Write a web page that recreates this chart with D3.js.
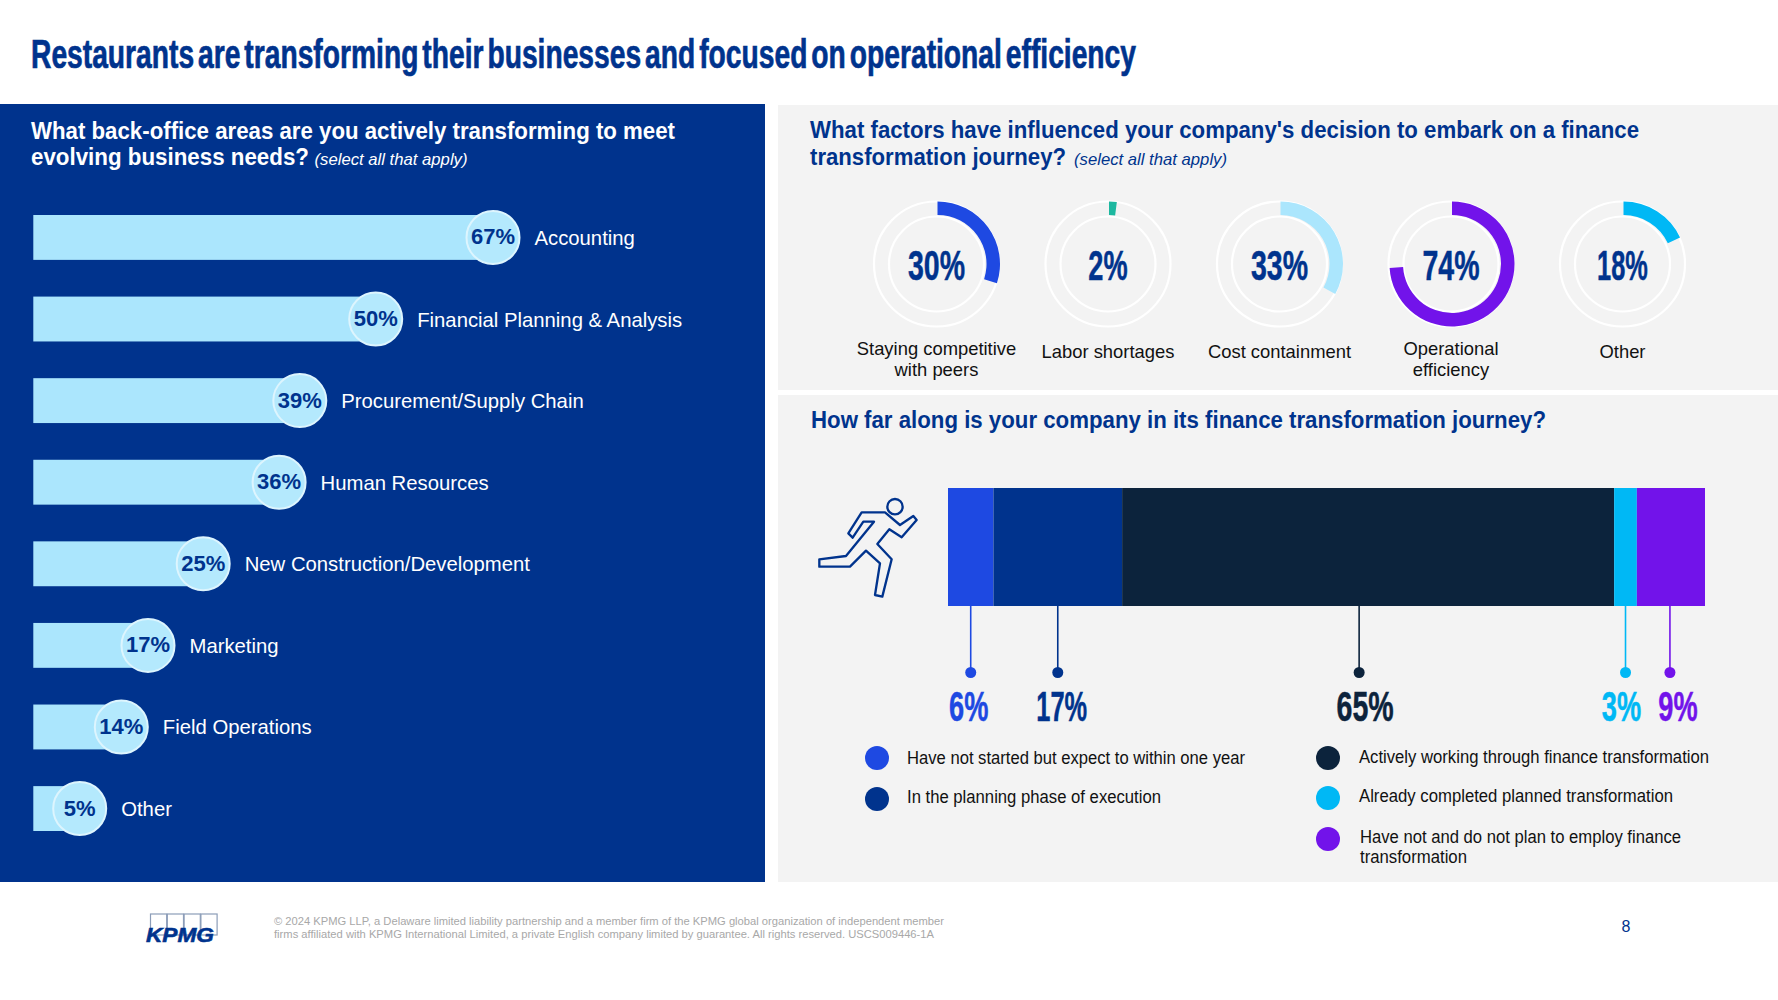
<!DOCTYPE html>
<html lang="en">
<head>
<meta charset="utf-8">
<title>Restaurants finance transformation</title>
<script src="https://cdn.jsdelivr.net/npm/d3@7/dist/d3.min.js"></script>
<style>
  html, body { margin: 0; padding: 0; background: #fff; overflow: hidden; }
  svg { display: block; }
  text { font-family: "Liberation Sans", Arial, sans-serif; }
  .narrow { font-family: "Liberation Sans Narrow", "Liberation Sans", Arial, sans-serif; font-weight: 700; }
</style>
</head>
<body>
<svg id="chart" width="1778" height="1000"></svg>
<script>
// Back-office areas being transformed
const areaNames = ["Accounting", "Financial Planning & Analysis", "Procurement/Supply Chain", "Human Resources",
  "New Construction/Development", "Marketing", "Field Operations", "Other"];
const areaValues = [67, 50, 39, 36, 25, 17, 14, 5];

// Factors behind the decision
const factorNames = [["Staying competitive", "with peers"], ["Labor shortages"], ["Cost containment"],
  ["Operational", "efficiency"], ["Other"]];
const factorValues = [30, 2, 33, 74, 18];
const factorColors = ["#1E49E2", "#1DB8A0", "#ABE6FD", "#7213EA", "#00B8F5"];

// Progress along the journey
const stageNames = ["Have not started but expect to within one year", "In the planning phase of execution",
  "Actively working through finance transformation", "Already completed planned transformation",
  "Have not and do not plan to employ finance transformation"];
const stageValues = [6, 17, 65, 3, 9];
const stageColors = ["#1E49E2", "#00338D", "#0C233C", "#00B8F5", "#7213EA"];

const NAVY = "#00338D", PANEL = "#F3F3F3", BAR = "#ABE6FD";
const svg = d3.select("#chart");

// Squeezed display figures: the width comes from the digits so "1" stays slim.
const glyphWidth = ch => ch === "%" ? 21.5 : ch === "1" ? 11.5 : 17.8;
const figureWidth = s => d3.sum(Array.from(s), glyphWidth);
function figure(g, label, cx, baseline, size, color) {
  const w = figureWidth(label);
  return g.append("text").attr("class", "narrow")
    .attr("x", cx - w / 2).attr("y", baseline)
    .attr("font-size", size).attr("fill", color)
    .attr("stroke", color).attr("stroke-width", 0.5)
    .attr("textLength", w).attr("lengthAdjust", "spacingAndGlyphs").text(label);
}
function fitted(g, label, x, baseline, size, width, color, weight, style) {
  return g.append("text").attr("x", x).attr("y", baseline)
    .attr("font-size", size).attr("fill", color)
    .attr("font-weight", weight || 400).attr("font-style", style || "normal")
    .attr("textLength", width).attr("lengthAdjust", "spacingAndGlyphs").text(label);
}

// Page background panels
svg.append("rect").attr("x", 0).attr("y", 104).attr("width", 765).attr("height", 778).attr("fill", NAVY);
svg.append("rect").attr("x", 778).attr("y", 105).attr("width", 1000).attr("height", 285).attr("fill", PANEL);
svg.append("rect").attr("x", 778).attr("y", 395).attr("width", 1000).attr("height", 487).attr("fill", PANEL);

// Page title: tight word gaps and a heavier stroke on the condensed face
svg.append("text").attr("class", "narrow").attr("x", 31).attr("y", 68)
  .attr("font-size", 40).attr("fill", NAVY).attr("stroke", NAVY).attr("stroke-width", 0.7)
  .attr("word-spacing", "-5.5px")
  .attr("textLength", 1105).attr("lengthAdjust", "spacingAndGlyphs")
  .text("Restaurants are transforming their businesses and focused on operational efficiency");

// ---- Horizontal bars with round value badges ----
const areaPanel = svg.append("g");
fitted(areaPanel, "What back-office areas are you actively transforming to meet", 31, 139, 23, 644, "#fff", 700);
fitted(areaPanel, "evolving business needs?", 31, 165, 23, 278, "#fff", 700);
fitted(areaPanel, "(select all that apply)", 314.5, 165, 17, 153, "#fff", 400, "italic");

// Short bars stay long enough to hold their badge, so the scale has extra stops at the low end.
const barX = d3.scaleLinear().domain([5, 14, 17, 67]).range([79.7, 121.3, 148, 493]);
const rowY = d3.scaleBand().domain(areaNames).range([215, 831]).paddingInner(0.45);
const rows = areaPanel.selectAll("g.row").data(areaNames.map((name, i) => ({ name, value: areaValues[i] })))
  .join("g").attr("class", "row");
rows.append("rect").attr("x", 33.3).attr("y", d => rowY(d.name))
  .attr("width", d => barX(d.value) - 33.3).attr("height", rowY.bandwidth()).attr("fill", BAR);
rows.append("circle").attr("cx", d => barX(d.value)).attr("cy", d => rowY(d.name) + rowY.bandwidth() / 2)
  .attr("r", 26.5).attr("fill", "#B4E9FD").attr("stroke", "#DDF5FE").attr("stroke-width", 2);
rows.append("text").attr("x", d => barX(d.value)).attr("y", d => rowY(d.name) + rowY.bandwidth() / 2 + 7)
  .attr("text-anchor", "middle").attr("font-size", 22).attr("font-weight", 700).attr("fill", NAVY)
  .text(d => d.value + "%");
rows.append("text").attr("x", d => barX(d.value) + 41.5).attr("y", d => rowY(d.name) + rowY.bandwidth() / 2 + 7.5)
  .attr("font-size", 20.3).attr("fill", "#fff").text(d => d.name);

// ---- Factor donuts ----
const factorPanel = svg.append("g");
fitted(factorPanel, "What factors have influenced your company's decision to embark on a finance", 810, 138, 23, 829, NAVY, 700);
fitted(factorPanel, "transformation journey?", 810, 165, 23, 256, NAVY, 700);
fitted(factorPanel, "(select all that apply)", 1074, 165, 17, 153, NAVY, 400, "italic");

const donutX = d3.scalePoint().domain(d3.range(factorValues.length)).range([936.5, 1622.5]);
const donutY = 264;
const angle = d3.scaleLinear().domain([0, 100]).range([0, 2 * Math.PI]);
const arc = d3.arc().innerRadius(49).outerRadius(62.5);
factorValues.forEach((v, i) => {
  const g = factorPanel.append("g");
  [62.5, 47.5].forEach(r => g.append("circle").attr("cx", donutX(i)).attr("cy", donutY).attr("r", r)
    .attr("fill", "none").attr("stroke", "#fff").attr("stroke-width", 2.2));
  g.append("path").attr("transform", `translate(${donutX(i) + 1},${donutY})`)
    .attr("d", arc({ startAngle: 0, endAngle: angle(v) })).attr("fill", factorColors[i]);
  figure(g, v + "%", donutX(i), 279.5, 43, NAVY);
  const lines = factorNames[i];
  lines.forEach((line, k) => {
    const base = lines.length === 1 ? 357.5 : 354.5 + k * 21.5;
    g.append("text").attr("x", donutX(i)).attr("y", base).attr("text-anchor", "middle")
      .attr("font-size", 18.4).attr("fill", "#111").text(line);
  });
});

// ---- Stacked progress bar ----
const stagePanel = svg.append("g");
fitted(stagePanel, "How far along is your company in its finance transformation journey?", 811, 428, 23, 735, NAVY, 700);

// Runner icon, outlined in its own 3x coordinate space
const runner = stagePanel.append("g").attr("transform", "translate(800,480) scale(0.3333)")
  .attr("fill", "none").attr("stroke", NAVY).attr("stroke-width", 7).attr("stroke-linejoin", "round");
runner.append("circle").attr("cx", 285).attr("cy", 80).attr("r", 23);
runner.append("path").attr("d", "M185,97 L255,97 L300,135 L340,108 L350,120 L305,172 L268,148 L232,192 L275,238 L247,350 L225,345 L240,250 L198,212 L150,260 L58,260 L58,238 L138,228 L222,125 L190,125 L158,173 L145,160 Z");

const stack = d3.stack().keys(d3.range(stageValues.length))([stageValues]);
const shareX = d3.scaleLinear().domain([0, 100]).range([948, 1705]);
const leaderNudge = [0, 0, -9, 0, -1];
const figureNudge = [-2, 4, 6, -4, 8];
stack.forEach((layer, i) => {
  const [a, b] = layer[0];
  stagePanel.append("rect").attr("x", shareX(a)).attr("y", 488)
    .attr("width", shareX(b) - shareX(a)).attr("height", 118).attr("fill", stageColors[i]);
  const lx = shareX((a + b) / 2) + leaderNudge[i];
  stagePanel.append("line").attr("x1", lx).attr("x2", lx).attr("y1", 606).attr("y2", 672)
    .attr("stroke", stageColors[i]).attr("stroke-width", 1.6);
  stagePanel.append("circle").attr("cx", lx).attr("cy", 672.5).attr("r", 5.5).attr("fill", stageColors[i]);
  figure(stagePanel, stageValues[i] + "%", lx + figureNudge[i], 720.5, 42, stageColors[i]);
});

// Legend
const legendDots = [[877, 758], [877, 799], [1328, 758], [1328, 798], [1328, 839]];
const legendLines = [
  [[907, 764, 338, stageNames[0]]],
  [[907, 803, 254, stageNames[1]]],
  [[1359, 763, 350, stageNames[2]]],
  [[1359, 802, 314, stageNames[3]]],
  [[1360, 843, 321, "Have not and do not plan to employ finance"], [1360, 863, 107, "transformation"]]
];
legendDots.forEach(([x, y], i) => {
  stagePanel.append("circle").attr("cx", x).attr("cy", y).attr("r", 12).attr("fill", stageColors[i]);
  legendLines[i].forEach(([tx, ty, w, s]) => fitted(stagePanel, s, tx, ty, 17.5, w, "#111"));
});

// ---- Footer ----
const foot = svg.append("g");
d3.range(4).forEach(i => foot.append("rect").attr("x", 150.5 + i * 16.8).attr("y", 914).attr("width", 16.2).attr("height", 21)
  .attr("fill", "none").attr("stroke", "#8C9DB8").attr("stroke-width", 1.2));
fitted(foot, "KPMG", 146, 942, 21, 68, NAVY, 700, "italic").attr("stroke", NAVY).attr("stroke-width", 0.6);
fitted(foot, "© 2024 KPMG LLP, a Delaware limited liability partnership and a member firm of the KPMG global organization of independent member", 274, 925, 11, 670, "#A8A8A8");
fitted(foot, "firms affiliated with KPMG International Limited, a private English company limited by guarantee. All rights reserved. USCS009446-1A", 274, 938, 11, 660, "#A8A8A8");
foot.append("text").attr("x", 1626).attr("y", 932).attr("text-anchor", "middle")
  .attr("font-size", 16).attr("fill", NAVY).text("8");
</script>
</body>
</html>
